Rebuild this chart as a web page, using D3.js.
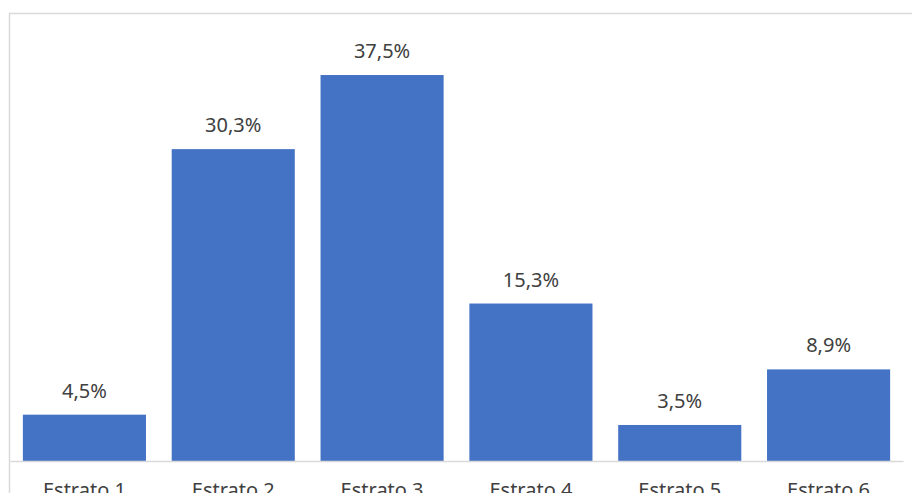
<!DOCTYPE html>
<html>
<head>
<meta charset="utf-8">
<script src="https://cdn.jsdelivr.net/npm/d3@7"></script>
<style>
  html, body { margin: 0; padding: 0; background: #fff; overflow: hidden; }
  svg { display: block; }
  text { font-family: "Noto Sans", "Open Sans", sans-serif; fill: #404040; }
</style>
</head>
<body>
<svg id="chart" width="912" height="493"></svg>
<script>
// Distribution by socioeconomic stratum (percent)
const categories = ["Estrato 1", "Estrato 2", "Estrato 3", "Estrato 4", "Estrato 5", "Estrato 6"];
const values = [4.5, 30.3, 37.5, 15.3, 3.5, 8.9];
const valueLabels = ["4,5%", "30,3%", "37,5%", "15,3%", "3,5%", "8,9%"];

const svg = d3.select("#chart");

// Chart frame
svg.append("rect")
  .attr("x", 9.5).attr("y", 13.5)
  .attr("width", 920).attr("height", 500)
  .attr("fill", "none")
  .attr("stroke", "#d9d9d9")
  .attr("stroke-width", 1.5);

const plotLeft = 10, plotRight = 903, baseY = 461;

const x = d3.scaleBand()
  .domain(categories)
  .range([plotLeft, plotRight])
  .paddingInner(0.173)
  .paddingOuter(0.0865);

const y = d3.scaleLinear()
  .domain([0, 40])
  .range([baseY, baseY - 411.7]);

// Bars
svg.append("g").selectAll("rect")
  .data(values)
  .join("rect")
  .attr("x", (d, i) => x(categories[i]))
  .attr("y", d => y(d))
  .attr("width", x.bandwidth())
  .attr("height", d => y(0) - y(d))
  .attr("fill", "#4472C4");

// Category axis
const xAxis = svg.append("g")
  .attr("transform", `translate(0,${baseY})`)
  .call(d3.axisBottom(x).tickSize(0).tickPadding(22));
xAxis.select(".domain").attr("stroke", "#d9d9d9").attr("stroke-width", 1.5);
xAxis.selectAll("text")
  .attr("font-family", "Noto Sans, Open Sans, sans-serif")
  .attr("font-size", 20)
  .attr("fill", "#404040");

// Value labels
svg.append("g").selectAll("text")
  .data(values)
  .join("text")
  .attr("x", (d, i) => x(categories[i]) + x.bandwidth() / 2)
  .attr("y", d => y(d) - 17)
  .attr("text-anchor", "middle")
  .attr("font-size", 20)
  .text((d, i) => valueLabels[i]);
</script>
</body>
</html>
